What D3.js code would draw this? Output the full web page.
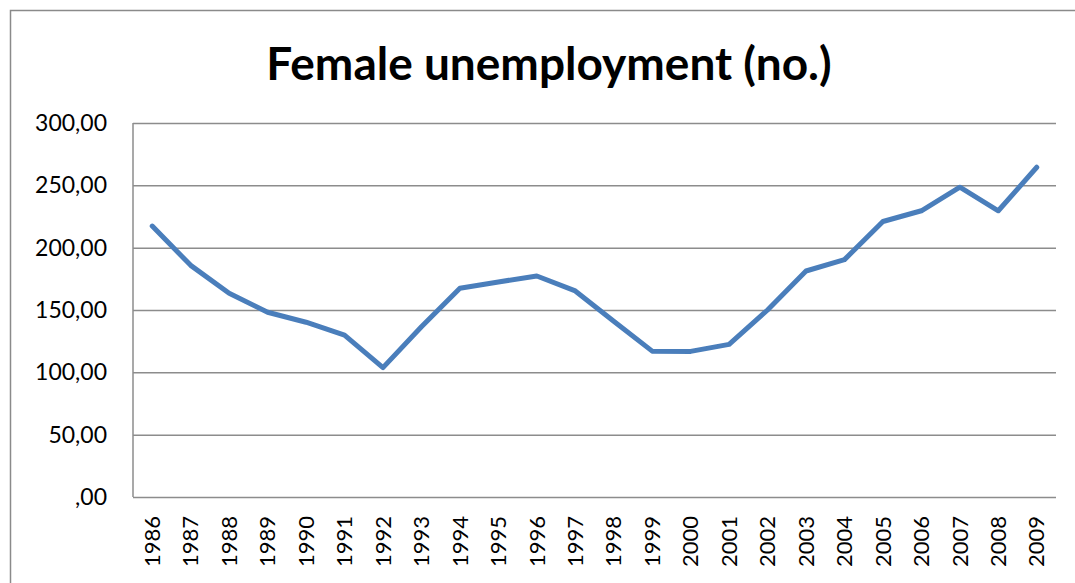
<!DOCTYPE html>
<html>
<head>
<meta charset="utf-8">
<script src="https://cdn.jsdelivr.net/npm/d3@7"></script>
<style>
  body { margin: 0; background: #fff; }
  svg { display: block; }
</style>
</head>
<body>
<script>
var years = ["1986","1987","1988","1989","1990","1991","1992","1993","1994","1995","1996","1997",
             "1998","1999","2000","2001","2002","2003","2004","2005","2006","2007","2008","2009"];
var unemployment = [217.3, 185.8, 163.4, 148.2, 140.2, 129.8, 103.8, 136.5, 167.4, 172.5, 177.3, 165.3,
                    141.0, 117.0, 116.8, 122.4, 150.0, 181.3, 190.4, 221.0, 229.6, 248.5, 229.6, 264.5];
var yTicks = [0, 50, 100, 150, 200, 250, 300];
var title = "Female unemployment (no.)";

var width = 1075;
var height = 583;
var margin = {top: 123, right: 19, bottom: 86, left: 133};

var svg = d3.select("body").append("svg")
            .attr("width", width)
            .attr("height", height);

// outer chart border
svg.append("rect")
   .attr("x", 10.5)
   .attr("y", 10.5)
   .attr("width", width)
   .attr("height", height)
   .attr("fill", "none")
   .attr("stroke", "#8a8a8a")
   .attr("stroke-width", 1.5);

var xScale = d3.scaleBand()
               .domain(years)
               .range([margin.left, width - margin.right]);
var yScale = d3.scaleLinear()
               .domain([0, 300])
               .range([height - margin.bottom, margin.top]);

// format like 300,00 and ,00
var fmt = function(v) {
    var s = d3.format(".2f")(v).replace(".", ",");
    return s.indexOf("0,") === 0 ? s.slice(1) : s;
};

// gridlines + y labels
var yAxis = d3.axisLeft(yScale)
              .tickValues(yTicks)
              .tickSize(-(width - margin.left - margin.right))
              .tickPadding(26)
              .tickFormat(fmt);
var gy = svg.append("g")
            .attr("transform", "translate(" + margin.left + ",0)")
            .call(yAxis);
gy.select(".domain").remove();
gy.selectAll(".tick line")
  .attr("stroke", "#8c8c8c")
  .attr("stroke-width", 1.5);
gy.selectAll(".tick text")
  .attr("font-family", "Lato, 'Open Sans', sans-serif")
  .attr("font-size", "23px")
  .attr("fill", "#000");

// left axis line
svg.append("line")
   .attr("x1", margin.left).attr("x2", margin.left)
   .attr("y1", yScale(300)).attr("y2", yScale(0))
   .attr("stroke", "#8c8c8c")
   .attr("stroke-width", 1.5);

// x labels (rotated)
var xAxis = d3.axisBottom(xScale).tickSize(0).tickPadding(0);
var gx = svg.append("g")
            .attr("transform", "translate(0," + yScale(0) + ")")
            .call(xAxis);
gx.select(".domain").remove();
gx.selectAll(".tick text")
  .attr("font-family", "Lato, 'Open Sans', sans-serif")
  .attr("font-size", "22px")
  .attr("fill", "#000")
  .attr("transform", "rotate(-90)")
  .attr("text-anchor", "end")
  .attr("x", -19)
  .attr("y", 0)
  .attr("dy", "0.35em");

// line
var line = d3.line()
             .x(function(d, i) { return xScale(years[i]) + xScale.bandwidth() / 2; })
             .y(function(d) { return yScale(d); });
svg.append("path")
   .datum(unemployment)
   .attr("d", line)
   .attr("fill", "none")
   .attr("stroke", "#4a7ebb")
   .attr("stroke-width", 5)
   .attr("stroke-linejoin", "round")
   .attr("stroke-linecap", "round");

// title
svg.append("text")
   .attr("x", 549)
   .attr("y", 80)
   .attr("text-anchor", "middle")
   .attr("font-family", "Lato, 'Open Sans', sans-serif")
   .attr("font-weight", "bold")
   .attr("font-size", "46px")
   .attr("fill", "#000")
   .text(title);
</script>
</body>
</html>
